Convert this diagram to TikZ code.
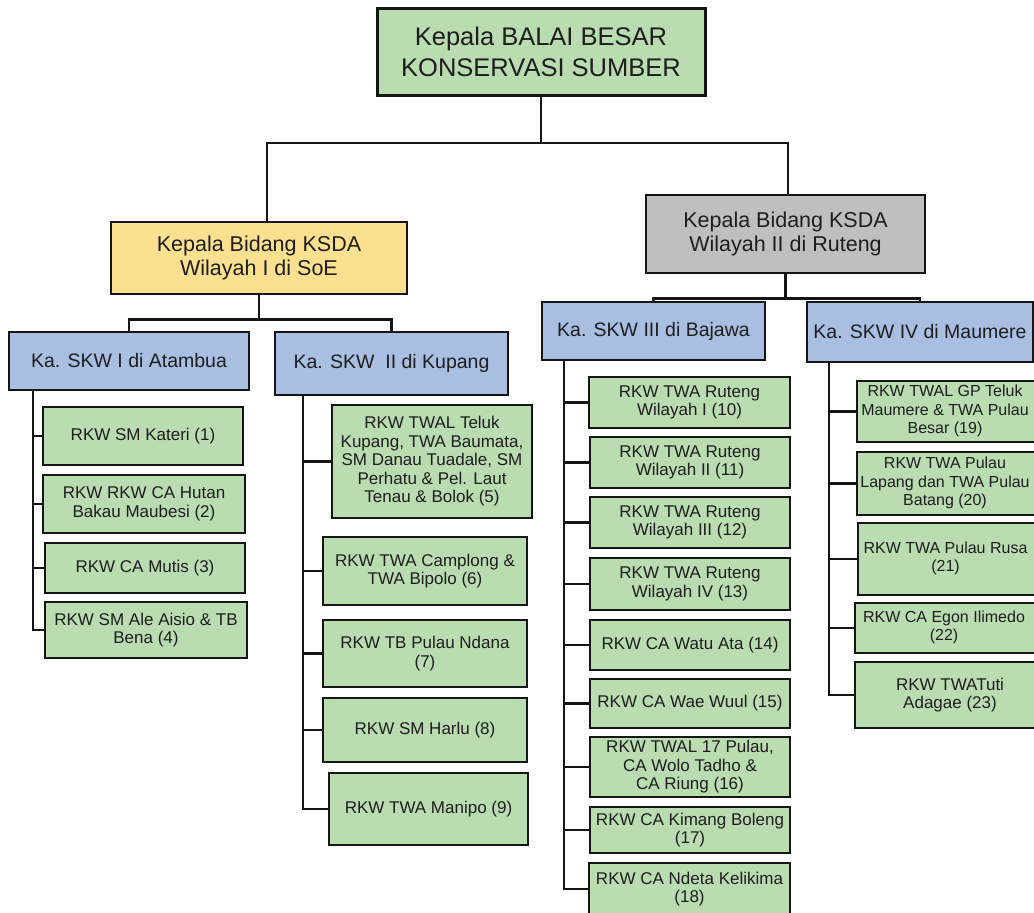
\documentclass[tikz,border=0pt]{standalone}
\usepackage{fontspec}
\setmainfont{Liberation Sans}
\usetikzlibrary{calc}
\definecolor{leafgreen}{HTML}{B9DCB0}
\definecolor{headyellow}{HTML}{FBE08F}
\definecolor{headgray}{HTML}{BFBFBF}
\definecolor{skwblue}{HTML}{A8BFE2}
\definecolor{txt}{HTML}{1E1E1E}
\definecolor{edge}{HTML}{151515}
\newcommand{\edgetext}[1]{\begin{tabular}{@{}c@{\hspace{12pt}}}#1\end{tabular}}
\begin{document}
\begin{tikzpicture}[x=1pt,y=-1pt,
  base/.style={draw=edge, line width=2.5pt, align=center, inner sep=1pt, text=txt},
  leaf/.style={base, fill=leafgreen, font=\fontsize{17}{18.5}\selectfont},
  edgeleaf/.style={base, fill=leafgreen, font=\fontsize{16}{18.5}\selectfont},
  skw/.style={base, fill=skwblue, font=\fontsize{19.5}{22}\selectfont},
  bid/.style={base, font=\fontsize{21.5}{24}\selectfont},
  topbox/.style={base, line width=3pt, fill=leafgreen, font=\fontsize{25.5}{31}\selectfont},
  conn/.style={draw=edge, line width=2.5pt},
  tconn/.style={draw=edge, line width=2pt}]
\useasboundingbox (0,0) rectangle (1034,913);
\clip (0,0) rectangle (1034,913);
\fill[white] (0,0) rectangle (1034,913);

% top levels
\node[topbox, minimum width=328pt, minimum height=87pt] (top) at (541,51.5) {Kepala BALAI BESAR\\KONSERVASI SUMBER};
\node[bid, fill=headyellow, minimum width=296pt, minimum height=72pt] (b1) at (259,258) {Kepala Bidang KSDA\\Wilayah I di SoE};
\node[bid, fill=headgray, minimum width=279pt, minimum height=78pt] (b2) at (785.5,234) {Kepala Bidang KSDA\\Wilayah II di Ruteng};

\node[skw, minimum width=240pt, minimum height=58pt] (s1) at (129,361) {Ka. SKW I di Atambua};
\node[skw, minimum width=233pt, minimum height=63pt] (s2) at (391.5,363.5) {Ka. SKW\ \ II di Kupang};
\node[skw, minimum width=223pt, minimum height=58pt] (s3) at (653.5,331) {Ka. SKW III di Bajawa};
\node[skw, minimum width=226pt, minimum height=60pt] (s4) at (920,332) {Ka. SKW IV di Maumere};

% connectors top
\coordinate (j0) at (541,143);
\draw[tconn] (top.south) -- (j0);
\draw[tconn] (j0) -| ($(b1.north)+(8,0)$);
\draw[tconn] (j0) -| ($(b2.north)+(2.5,0)$);
\draw[conn] (b1.south) -- ++(0,24) coordinate (j1);
\draw[conn] (j1) -| (s1.north);
\draw[conn] (j1) -| (s2.north);
\draw[conn] (b2.south) -- ++(0,24) coordinate (j2);
\draw[conn] (j2) -| (s3.north);
\draw[conn] (j2) -| (s4.north);

% leaves SKW I
\node[leaf, minimum width=200pt, minimum height=58pt] (l1) at (143,436) {RKW SM Kateri (1)};
\node[leaf, minimum width=202pt, minimum height=58pt] (l2) at (144,504) {RKW RKW CA Hutan\\Bakau Maubesi (2)};
\node[leaf, minimum width=200pt, minimum height=50pt] (l3) at (145,568) {RKW CA Mutis (3)};
\node[leaf, minimum width=202pt, minimum height=56pt] (l4) at (146,630) {RKW SM Ale Aisio \& TB\\Bena (4)};

% leaves SKW II
\node[leaf, minimum width=200pt, minimum height=113pt] (l5) at (432,461.5) {RKW TWAL Teluk\\Kupang, TWA Baumata,\\SM Danau Tuadale, SM\\Perhatu \& Pel. Laut\\Tenau \& Bolok (5)};
\node[leaf, minimum width=204pt, minimum height=68pt] (l6) at (425,571) {RKW TWA Camplong \&\\TWA Bipolo (6)};
\node[leaf, minimum width=204pt, minimum height=67pt] (l7) at (425,653.5) {RKW TB Pulau Ndana\\(7)};
\node[leaf, minimum width=204pt, minimum height=64pt] (l8) at (425,730) {RKW SM Harlu (8)};
\node[leaf, minimum width=199pt, minimum height=72pt] (l9) at (428.5,809) {RKW TWA Manipo (9)};

% leaves SKW III
\node[leaf, minimum width=201pt, minimum height=51pt] (l10) at (689.5,402.5) {RKW TWA Ruteng\\Wilayah I (10)};
\node[leaf, minimum width=200pt, minimum height=51pt] (l11) at (690,462.5) {RKW TWA Ruteng\\Wilayah II (11)};
\node[leaf, minimum width=200pt, minimum height=51pt] (l12) at (690,522.5) {RKW TWA Ruteng\\Wilayah III (12)};
\node[leaf, minimum width=200pt, minimum height=52pt] (l13) at (690,584) {RKW TWA Ruteng\\Wilayah IV (13)};
\node[leaf, minimum width=200pt, minimum height=50pt] (l14) at (690,645) {RKW CA Watu Ata (14)};
\node[leaf, minimum width=200pt, minimum height=49pt] (l15) at (690,703.5) {RKW CA Wae Wuul (15)};
\node[leaf, minimum width=200pt, minimum height=60pt] (l16) at (690,767) {RKW TWAL 17 Pulau,\\CA Wolo Tadho \&\\CA Riung (16)};
\node[leaf, minimum width=200pt, minimum height=46pt] (l17) at (690,830) {RKW CA Kimang Boleng\\(17)};
\node[leaf, minimum width=201pt, minimum height=52pt] (l18) at (689.5,889) {RKW CA Ndeta Kelikima\\(18)};

% leaves SKW IV (boxes run past the right edge, as in the reference)
\node[edgeleaf, minimum width=188pt, minimum height=61pt] (l19) at (951,411.5) {\edgetext{RKW TWAL GP Teluk\\Maumere \& TWA Pulau\\Besar (19)}};
\node[edgeleaf, minimum width=188pt, minimum height=63pt] (l20) at (951,483.5) {\edgetext{RKW TWA Pulau\\Lapang dan TWA Pulau\\Batang (20)}};
\node[edgeleaf, minimum width=187pt, minimum height=72pt] (l21) at (951.5,559) {\edgetext{RKW TWA Pulau Rusa\\(21)}};
\node[edgeleaf, minimum width=190pt, minimum height=50pt] (l22) at (950,628) {\edgetext{RKW CA Egon Ilimedo\\(22)}};
\node[leaf, minimum width=190pt, minimum height=66pt] (l23) at (950,695) {RKW TWATuti\\Adagae (23)};

% spines
\coordinate (sp1) at (33,390);
\draw[conn] (sp1) |- (l4.west);
\foreach \n in {l1,l2,l3} \draw[conn] (sp1 |- \n.west) -- (\n.west);
\coordinate (sp2) at (303,395);
\draw[conn] (sp2) |- (l9.west);
\foreach \n in {l5,l6,l7,l8} \draw[conn] (sp2 |- \n.west) -- (\n.west);
\coordinate (sp3) at (564,360);
\draw[conn] (sp3) |- (l18.west);
\foreach \n in {l10,l11,l12,l13,l14,l15,l16,l17} \draw[conn] (sp3 |- \n.west) -- (\n.west);
\coordinate (sp4) at (829,362);
\draw[conn] (sp4) |- (l23.west);
\foreach \n in {l19,l20,l21,l22} \draw[conn] (sp4 |- \n.west) -- (\n.west);
\end{tikzpicture}
\end{document}
